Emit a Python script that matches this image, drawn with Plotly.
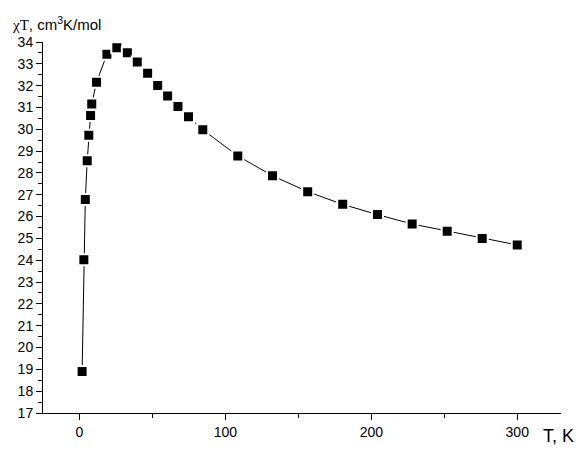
import plotly.graph_objects as go

# Data
temperature_K = [1.8, 3.0, 4.0, 5.3, 6.4, 7.6, 8.4, 11.7, 18.8, 25.6, 32.8, 39.6, 46.7,
                 53.6, 60.4, 67.5, 74.7, 84.5, 108.5, 132.3, 156.4, 180.4, 204.2,
                 228.0, 252.0, 276.0, 300.0]
chiT = [18.90, 24.02, 26.78, 28.56, 29.73, 30.63, 31.16, 32.16, 33.44, 33.74, 33.51,
        33.08, 32.57, 32.01, 31.52, 31.04, 30.58, 29.98, 28.78, 27.87, 27.14, 26.56,
        26.09, 25.66, 25.33, 25.00, 24.70]

x_ticks = [0, 100, 200, 300]
y_ticks = list(range(17, 35))

fig = go.Figure()
fig.add_trace(go.Scatter(
    x=temperature_K, y=chiT, mode="lines+markers",
    line=dict(color="black", width=1),
    marker=dict(symbol="square", size=11, color="black",
                line=dict(color="white", width=2)),
    showlegend=False, cliponaxis=False,
))

font_family = "Liberation Sans, Arial, sans-serif"
fig.update_layout(
    width=579, height=452,
    margin=dict(l=43, r=18, t=42, b=33),
    paper_bgcolor="white", plot_bgcolor="white",
    font=dict(family=font_family, size=14, color="black"),
    xaxis=dict(
        range=[-25, 330], tickvals=x_ticks, ticktext=[str(v) for v in x_ticks],
        showgrid=False, zeroline=False, showline=True, linecolor="black", linewidth=1,
        ticks="outside", ticklen=6, tickwidth=1, tickcolor="black",
        minor=dict(tickvals=[50, 150, 250], ticks="outside", ticklen=4, tickcolor="black"),
        tickfont=dict(size=14),
    ),
    yaxis=dict(
        range=[17, 34], tickvals=y_ticks, ticktext=[str(v) for v in y_ticks],
        showgrid=False, zeroline=False, showline=True, linecolor="black", linewidth=1,
        ticks="outside", ticklen=6, tickwidth=1, tickcolor="black",
        minor=dict(tickvals=[v + 0.5 for v in range(17, 34)], ticks="outside",
                   ticklen=4, tickcolor="black"),
        tickfont=dict(size=14),
    ),
)

fig.add_annotation(
    text="<span style=\"font-family:'Liberation Serif'\">χT</span>, cm<sup>3</sup>K/mol",
    xref="paper", yref="paper", x=-0.064, y=1.05, xanchor="left", yanchor="middle",
    showarrow=False, font=dict(size=15, family=font_family),
)
fig.add_annotation(
    text="T, K", xref="paper", yref="paper", x=1.028, y=-0.061,
    xanchor="right", yanchor="middle", showarrow=False,
    font=dict(size=18, family=font_family),
)

fig.write_html(
    "out.html",
    config={"displayModeBar": False},
    post_script="document.body.style.margin='0';document.body.style.overflow='hidden';",
)
